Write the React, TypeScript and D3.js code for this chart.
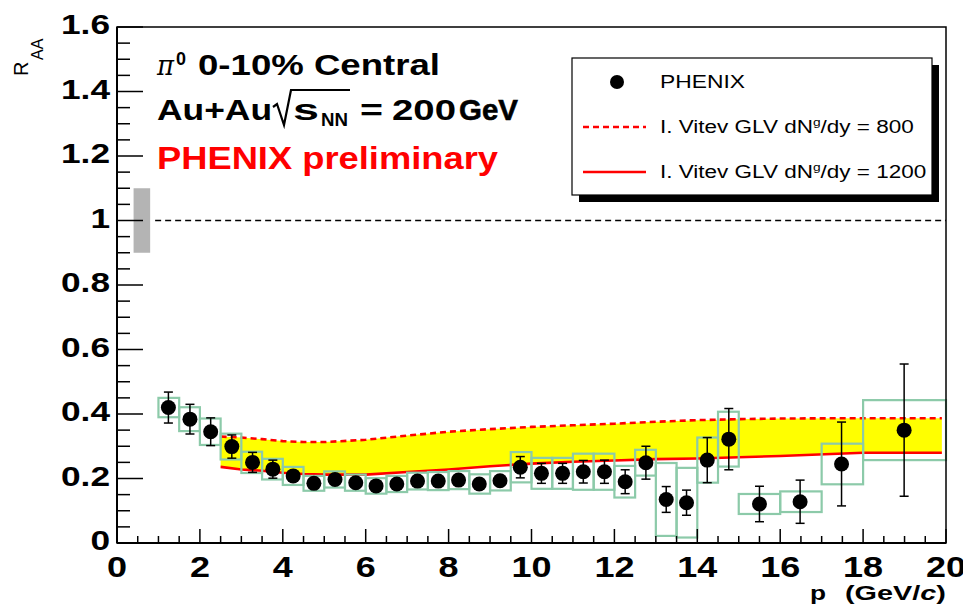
import * as d3 from 'd3';

// pT bin edges for the systematic boxes (GeV/c)
const ptBinEdges = [1.0, 1.5, 2.0, 2.5, 3.0, 3.5, 4.0, 4.5, 5.0, 5.5, 6.0, 6.5, 7.0, 7.5, 8.0, 8.5, 9.0, 9.5, 10.0, 10.5, 11.0, 11.5, 12.0, 12.5, 13.0, 13.5, 14.0, 14.5, 15.0, 16.0, 17.0, 18.0, 20.0];
const ptValues = [1.24, 1.76, 2.26, 2.77, 3.27, 3.76, 4.25, 4.75, 5.26, 5.76, 6.25, 6.75, 7.25, 7.75, 8.24, 8.74, 9.24, 9.73, 10.24, 10.75, 11.25, 11.76, 12.26, 12.76, 13.25, 13.74, 14.24, 14.76, 15.5, 16.48, 17.48, 18.99];
const raaValues = [0.42, 0.384, 0.345, 0.299, 0.25, 0.229, 0.208, 0.185, 0.197, 0.187, 0.177, 0.183, 0.192, 0.192, 0.195, 0.183, 0.193, 0.235, 0.216, 0.216, 0.221, 0.221, 0.19, 0.249, 0.135, 0.125, 0.257, 0.322, 0.121, 0.128, 0.245, 0.35];
const statErr = [0.048, 0.046, 0.043, 0.036, 0.031, 0.028, 0.012, 0.01, 0.01, 0.01, 0.01, 0.01, 0.01, 0.01, 0.01, 0.01, 0.01, 0.033, 0.031, 0.031, 0.035, 0.036, 0.037, 0.051, 0.04, 0.039, 0.07, 0.095, 0.055, 0.067, 0.13, 0.205];
const sysErr = [0.03, 0.037, 0.041, 0.04, 0.033, 0.032, 0.028, 0.023, 0.025, 0.025, 0.024, 0.025, 0.026, 0.028, 0.028, 0.03, 0.03, 0.047, 0.048, 0.048, 0.056, 0.056, 0.049, 0.04, 0.113, 0.108, 0.07, 0.085, 0.031, 0.032, 0.063, 0.093];

// I. Vitev GLV curves
const theoryPt = [2.5, 3.0, 3.5, 4.0, 4.5, 5.0, 6.0, 7.0, 8.0, 9.0, 10.0, 11.0, 12.0, 13.0, 14.0, 15.0, 16.0, 18.0, 19.9];
const vitev800 = [0.33, 0.327, 0.322, 0.316, 0.313, 0.313, 0.32, 0.333, 0.345, 0.353, 0.36, 0.365, 0.37, 0.376, 0.381, 0.384, 0.386, 0.387, 0.387];
const vitev1200 = [0.236, 0.228, 0.224, 0.218, 0.214, 0.212, 0.212, 0.22, 0.228, 0.238, 0.246, 0.252, 0.256, 0.26, 0.262, 0.266, 0.27, 0.28, 0.28];

const yTickLabels = ['0', '0.2', '0.4', '0.6', '0.8', '1', '1.2', '1.4', '1.6'];
const xTickLabels = ['0', '2', '4', '6', '8', '10', '12', '14', '16', '18', '20'];

const W = 963;
const H = 608;
const left = 117, right = 946, top = 27, bottom = 543;
const boxColor = '#8ccaa9';
const font = '"Liberation Sans", Arial, Helvetica, sans-serif';

// text stretched horizontally, the way the old ROOT picture renders it
function SText({ x, y, sx = 1.27, anchor = 'start', children, ...rest }: any) {
  return (
    <text transform={`translate(${x},${y}) scale(${sx},1)`} textAnchor={anchor} fontFamily={font} {...rest}>
      {children}
    </text>
  );
}

export default function App() {
  const x = d3.scaleLinear().domain([0, 20]).range([left, right]);
  const y = d3.scaleLinear().domain([0, 1.6]).range([bottom, top]);

  const yMinor = d3.range(0, 1.6001, 0.05);
  const xMinor = d3.range(0, 20.001, 0.5);

  const band = d3.area<number>()
    .x((d, i) => x(theoryPt[i]))
    .y0((d, i) => y(vitev1200[i]))
    .y1(d => y(d));
  const line = d3.line<number>().x((d, i) => x(theoryPt[i])).y(d => y(d));

  return (
    <svg width={W} height={H} style={{ position: 'absolute', left: 0, top: 0, background: '#fff' }}>
      {/* reference normalisation box and unity line */}
      <rect x={x(0.4)} y={y(1.1)} width={x(0.8) - x(0.4)} height={y(0.9) - y(1.1)} fill="#b4b4b4" />
      <line x1={x(0.92)} x2={x(20)} y1={y(1)} y2={y(1)} stroke="#000" strokeWidth={1.3} strokeDasharray="6,4" />

      {/* theory band */}
      <path d={band(vitev800) || ''} fill="#ffff00" />
      <path d={line(vitev800) || ''} fill="none" stroke="#ff0000" strokeWidth={2.6} strokeDasharray="6,4" />
      <path d={line(vitev1200) || ''} fill="none" stroke="#ff0000" strokeWidth={2.6} />

      {/* systematic boxes */}
      {raaValues.map((v, i) => (
        <rect key={'s' + i} x={x(ptBinEdges[i])} y={y(v + sysErr[i])}
          width={x(ptBinEdges[i + 1]) - x(ptBinEdges[i])}
          height={y(v - sysErr[i]) - y(v + sysErr[i])}
          fill="none" stroke={boxColor} strokeWidth={2.2} />
      ))}

      {/* statistical error bars */}
      {raaValues.map((v, i) => {
        const cx = x(ptValues[i]);
        return (
          <g key={'e' + i} stroke="#000" strokeWidth={1.5}>
            <line x1={cx} x2={cx} y1={y(v + statErr[i])} y2={y(v - statErr[i])} />
            <line x1={cx - 4.5} x2={cx + 4.5} y1={y(v + statErr[i])} y2={y(v + statErr[i])} />
            <line x1={cx - 4.5} x2={cx + 4.5} y1={y(v - statErr[i])} y2={y(v - statErr[i])} />
          </g>
        );
      })}
      {raaValues.map((v, i) => (
        <circle key={'p' + i} cx={x(ptValues[i])} cy={y(v)} r={7.5} fill="#000" />
      ))}

      {/* frame */}
      <rect x={left} y={top} width={right - left} height={bottom - top} fill="none" stroke="#000" strokeWidth={1.5} />
      <line x1={left} x2={left} y1={top} y2={bottom} stroke="#000" strokeWidth={2} />
      <line x1={left} x2={right} y1={bottom} y2={bottom} stroke="#000" strokeWidth={2} />

      {/* y ticks */}
      {yMinor.map((t, i) => (
        <line key={'yt' + i} x1={left} x2={left + (i % 4 === 0 ? 26 : 13)} y1={y(t)} y2={y(t)} stroke="#000" strokeWidth={1.5} />
      ))}
      {yTickLabels.map((l, i) => (
        <SText key={'yl' + i} x={110} y={y(i * 0.2) + 7} sx={1.26} anchor="end" fontWeight="bold" fontSize={28}>{l}</SText>
      ))}

      {/* x ticks */}
      {xMinor.map((t, i) => (
        <line key={'xt' + i} x1={x(t)} x2={x(t)} y1={bottom} y2={bottom - (i % 4 === 0 ? 14 : 7)} stroke="#000" strokeWidth={1.5} />
      ))}
      {xTickLabels.map((l, i) => (
        <SText key={'xl' + i} x={x(i * 2)} y={577} sx={1.2} anchor="middle" fontWeight="bold" fontSize={30}>{l}</SText>
      ))}

      {/* axis titles */}
      <SText x={810} y={600} sx={1.25} fontWeight="bold" fontSize={21}>p</SText>
      <text x={845} y={600} fontFamily={font} fontWeight="bold" fontSize={21} textLength={101} lengthAdjust="spacingAndGlyphs">
        (GeV/<tspan fontStyle="italic">c</tspan>)
      </text>
      <g transform="translate(28,76) rotate(-90)" fontFamily={font}>
        <text x={0} y={0} fontSize={20}>R</text>
        <text x={16} y={15} fontSize={16}>AA</text>
      </g>

      {/* annotation */}
      <g fontFamily={font} fontWeight="bold">
        <text x={157} y={75} fontSize={27} fontFamily="'DejaVu Serif', serif" fontStyle="italic" fontWeight="normal"
          textLength={17} lengthAdjust="spacingAndGlyphs">π</text>
        <text x={176} y={65} fontSize={18} textLength={10} lengthAdjust="spacingAndGlyphs">0</text>
        <text x={198} y={75} fontSize={29} textLength={242} lengthAdjust="spacingAndGlyphs">0-10% Central</text>

        <text x={157} y={120} fontSize={30} textLength={115} lengthAdjust="spacingAndGlyphs">Au+Au</text>
        <path d="M273,107 L277,104 L284,125 L291,90 L350,90" fill="none" stroke="#000" strokeWidth={2.2} />
        <text x={293} y={120} fontSize={30} textLength={26} lengthAdjust="spacingAndGlyphs">s</text>
        <text x={321} y={126} fontSize={19} textLength={27} lengthAdjust="spacingAndGlyphs">NN</text>
        <text x={360} y={120} fontSize={30} textLength={23} lengthAdjust="spacingAndGlyphs">=</text>
        <text x={392} y={120} fontSize={30} textLength={64} lengthAdjust="spacingAndGlyphs">200</text>
        <text x={459} y={120} fontSize={30} fontWeight="bold" stroke="#000" strokeWidth={0.6}
          textLength={59} lengthAdjust="spacingAndGlyphs">GeV</text>

        <text x={157} y={169} fontSize={31} fill="#ff0000" textLength={341} lengthAdjust="spacingAndGlyphs">PHENIX preliminary</text>
      </g>

      {/* legend */}
      <rect x={579} y={65} width={360} height={137} fill="#000" />
      <rect x={572} y={58} width={360} height={137} fill="#fff" stroke="#000" strokeWidth={1.2} />
      <circle cx={617} cy={82} r={7} fill="#000" />
      <line x1={583} x2={646} y1={127} y2={127} stroke="#ff0000" strokeWidth={2.6} strokeDasharray="6,4" />
      <line x1={583} x2={646} y1={172} y2={172} stroke="#ff0000" strokeWidth={2.6} />
      <SText x={660} y={88} sx={1.27} fontSize={18}>PHENIX</SText>
      <SText x={660} y={133} sx={1.25} fontSize={18}>I. Vitev GLV dN<tspan fontSize={11} dy={-7}>g</tspan><tspan dy={7}>/dy = 800</tspan></SText>
      <SText x={660} y={178} sx={1.25} fontSize={18}>I. Vitev GLV dN<tspan fontSize={11} dy={-7}>g</tspan><tspan dy={7}>/dy = 1200</tspan></SText>
    </svg>
  );
}
